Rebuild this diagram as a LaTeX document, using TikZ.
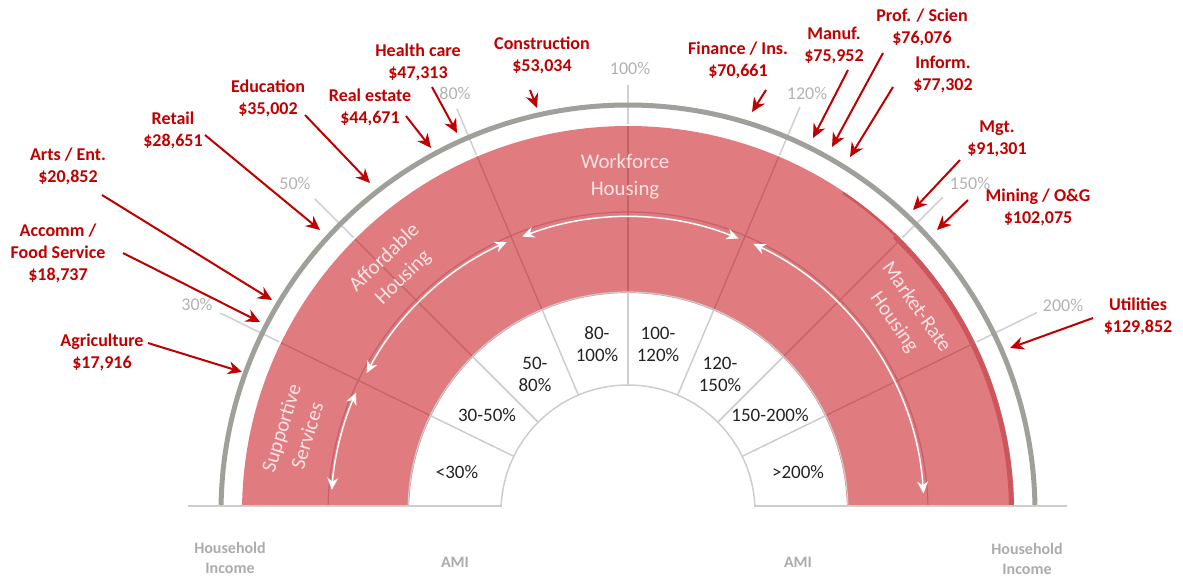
\documentclass[tikz,border=0pt]{standalone}
\usepackage{fontspec}
\setmainfont{Carlito}
\usetikzlibrary{arrows.meta}
\definecolor{bandred}{RGB}{224,123,128}
\definecolor{banddark}{RGB}{196,98,104}
\definecolor{edgedark}{RGB}{204,86,92}
\definecolor{labred}{RGB}{192,0,0}
\definecolor{ringgray}{RGB}{160,160,155}
\definecolor{tickgray}{RGB}{208,208,208}
\definecolor{ticktext}{RGB}{178,178,178}
\definecolor{seclinegray}{RGB}{205,205,205}
\definecolor{bandtext}{RGB}{250,228,228}
\definecolor{axisgray}{RGB}{172,172,172}
\definecolor{sectext}{RGB}{35,35,35}
\tikzset{
  indlabel/.style={font=\fontsize{9}{11}\selectfont\bfseries, text=labred, align=center, inner sep=0pt},
  indarrow/.style={draw=labred, line width=1pt, -{Stealth[length=7pt,width=6.5pt]}},
  ticklabel/.style={font=\fontsize{9}{11}\selectfont, text=ticktext, inner sep=0pt},
  seclabel/.style={font=\fontsize{9.5}{11}\selectfont, text=sectext, align=center, inner sep=0pt},
  bandlabel/.style={font=\fontsize{10.4}{13.5}\selectfont, text=bandtext, align=center, inner sep=0pt},
  axislabel/.style={font=\fontsize{8}{10}\selectfont\bfseries, text=axisgray, align=center, inner sep=0pt},
  warrow/.style={draw=white, line width=0.75pt, {Stealth[length=6pt,width=5.5pt]}-{Stealth[length=6pt,width=5.5pt]}},
  redline/.style={draw=banddark, line width=0.6pt},
  whiteline/.style={draw=seclinegray, line width=0.75pt},
  tickline/.style={draw=tickgray, line width=0.75pt},
}
\begin{document}
\begin{tikzpicture}[x=0.5pt,y=-0.5pt]
\useasboundingbox (0,0) rectangle (1183,579);
% ---------- polar part (origin = centre of the half-rings) ----------
\begin{scope}[shift={(628,512)}, y=0.5pt]
 \begin{scope}
  \clip (-700,6) rectangle (700,600);
  \fill[bandred] (0:386) arc[start angle=0,end angle=180,radius=386]
      -- (180:219) arc[start angle=180,end angle=0,radius=219] -- cycle;
  \draw[edgedark, line width=2.5pt] (-2:383.5) arc[start angle=-2,end angle=46,radius=383.5];
  \draw[edgedark, line width=1.2pt] (46:384.8) arc[start angle=46,end angle=56,radius=384.8];
  \foreach \a in {26,45,67,90,113,135,154}
     \draw[redline] (\a:220) -- (\a:386);
  \draw[redline] (0:300) arc[start angle=0,end angle=180,radius=300];
  \foreach \a in {26,45,67,90,113,135,154}
     \draw[whiteline] (\a:127) -- (\a:220);
  \draw[whiteline] (0:127) arc[start angle=0,end angle=180,radius=127];
  \draw[whiteline, line width=0.6pt] (0:220) arc[start angle=0,end angle=180,radius=220];
  \foreach \a/\r in {154/454,135/443,113/438,90/427,67/440,45/445,26/455}
     \draw[tickline] (\a:388) -- (\a:\r);
  \draw[ringgray, line width=2.5pt] (0:407) arc[start angle=0,end angle=180,radius=407];
  \draw[warrow] (175.7:297) arc[start angle=175.7,end angle=156.3,radius=297];
  \draw[warrow] (152:296) arc[start angle=152,end angle=114.2,radius=296];
  \draw[warrow] (111:295) arc[start angle=111,end angle=68,radius=295];
  \draw[warrow] (64.9:296) arc[start angle=64.9,end angle=3.6,radius=296];
 \end{scope}
\end{scope}
% baseline
\draw[seclinegray, line width=1pt] (188,506) -- (502,506);
\draw[seclinegray, line width=1pt] (755,506) -- (1067,506);
% ---------- band labels ----------
\node[bandlabel] (workforce) at (625,176.5) {Workforce\\Housing};
\node[bandlabel, rotate=44] (affordable) at (394,268) {Affordable\\Housing};
\node[bandlabel, rotate=73] (supportive) at (294,432) {Supportive\\Services};
\node[bandlabel, rotate=-55] (market) at (905,315) {Market-Rate\\Housing};
% ---------- sector labels ----------
\node[seclabel] (s1) at (457,472) {<30\%};
\node[seclabel] (s2) at (487,415) {30-50\%};
\node[seclabel] (s3) at (535,374) {50-\\80\%};
\node[seclabel] (s4) at (597,344) {80-\\100\%};
\node[seclabel] (s5) at (658,344) {100-\\120\%};
\node[seclabel] (s6) at (720,374) {120-\\150\%};
\node[seclabel] (s7) at (770,415) {150-200\%};
\node[seclabel] (s8) at (798,472) {>200\%};
% ---------- tick labels ----------
\node[ticklabel] (p30) at (197,304) {30\%};
\node[ticklabel] (p50) at (295,183) {50\%};
\node[ticklabel] (p80) at (455,93) {80\%};
\node[ticklabel] (p100) at (630,68) {100\%};
\node[ticklabel] (p120) at (807,93) {120\%};
\node[ticklabel] (p150) at (970,183) {150\%};
\node[ticklabel] (p200) at (1063,305) {200\%};
% ---------- axis labels ----------
\node[axislabel] (hl) at (230,558) {Household\\Income};
\node[axislabel] (hr) at (1027,559) {Household\\Income};
\node[axislabel] (al) at (455,562) {AMI};
\node[axislabel] (ar) at (798,562) {AMI};
% ---------- industry labels ----------
\node[indlabel] (agri) at (102,352.5) {Agriculture\\\$17,916};
\node[indlabel] (accomm) at (58,253.5) {Accomm /\\Food Service\\\$18,737};
\node[indlabel] (arts) at (68,166) {Arts / Ent.\\\$20,852};
\node[indlabel] (retail) at (173,130.5) {Retail\\\$28,651};
\node[indlabel] (edu) at (268,98) {Education\\\$35,002};
\node[indlabel] (realest) at (370,107) {Real estate\\\$44,671};
\node[indlabel] (health) at (418,62.5) {Health care\\\$47,313};
\node[indlabel] (constr) at (542,55) {Construction\\\$53,034};
\node[indlabel] (fin) at (738,60) {Finance / Ins.\\\$70,661};
\node[indlabel] (manuf) at (834,45) {Manuf.\\\$75,952};
\node[indlabel] (prof) at (922,27) {Prof. / Scien\\\$76,076};
\node[indlabel] (inform) at (943,74) {Inform.\\\$77,302};
\node[indlabel] (mgt) at (997,139) {Mgt.\\\$91,301};
\node[indlabel] (mining) at (1038,207.5) {Mining / O\&G\\\$102,075};
\node[indlabel] (util) at (1138,316) {Utilities\\\$129,852};
% ---------- arrow ends ----------
\foreach \n/\sx/\sy/\tx/\ty in {
  agri/148/343/242/372, accomm/123/253/260/322, arts/102/195/272/300,
  retail/205/135/320/230, edu/305/115/370/183, realest/406/116/431/148,
  health/432/87/457/133, constr/530/90/537/108, fin/766/90/752/112,
  manuf/848/70/813/138, prof/883/53/832/147, inform/893/87/850/157,
  mgt/960/160/913/210, mining/968/200/937/230, util/1093/318/1010/348}{
  \coordinate (\n-s) at (\sx,\sy);
  \coordinate (\n-t) at (\tx,\ty);
  \draw[indarrow] (\n-s) -- (\n-t);
}
\end{tikzpicture}
\end{document}
